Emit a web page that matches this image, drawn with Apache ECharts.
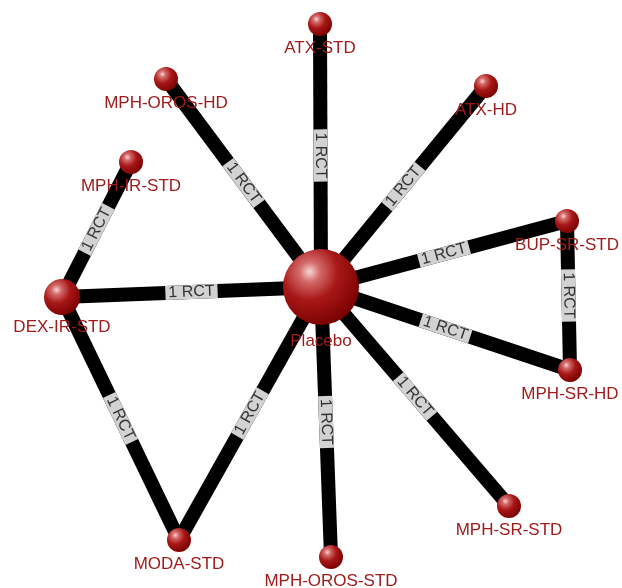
<!DOCTYPE html>
<html>
<head>
<meta charset="utf-8">
<script src="https://cdn.jsdelivr.net/npm/echarts@6/dist/echarts.min.js"></script>
<style>
  html, body { margin: 0; padding: 0; background: #ffffff; }
  #chart { width: 622px; height: 588px; }
</style>
</head>
<body>
<div id="chart"></div>
<script>
// Treatments in the network and their placement on the plotting plane
const treatments = ['Placebo', 'ATX-STD', 'MPH-OROS-HD', 'ATX-HD', 'MPH-IR-STD', 'BUP-SR-STD',
  'DEX-IR-STD', 'MPH-SR-HD', 'MPH-SR-STD', 'MODA-STD', 'MPH-OROS-STD'];
const nodeX = [321, 320, 166, 486, 131, 567, 62, 570, 509, 179, 331];
const nodeY = [287, 24, 79, 86, 162, 221, 297, 370, 506, 540, 557];
// Number of trials involving each treatment (drives sphere size)
const trialCount = [9, 1, 1, 1, 1, 2, 3, 2, 1, 2, 1];

// Direct comparisons and number of RCTs for each
const compSource = ['ATX-STD', 'Placebo', 'Placebo', 'Placebo', 'Placebo', 'Placebo', 'Placebo', 'Placebo', 'Placebo',
  'DEX-IR-STD', 'DEX-IR-STD', 'BUP-SR-STD'];
const compTarget = ['Placebo', 'MPH-OROS-HD', 'ATX-HD', 'BUP-SR-STD', 'MPH-SR-HD', 'MPH-SR-STD', 'MPH-OROS-STD', 'MODA-STD', 'DEX-IR-STD',
  'MPH-IR-STD', 'MODA-STD', 'MPH-SR-HD'];
const compRCT = [1, 1, 1, 1, 1, 1, 1, 1, 1, 1, 1, 1];

function sphereSize(n) {
  if (n >= 9) return 76;
  if (n >= 3) return 36;
  return 24;
}

const sphere = {
  type: 'radial', x: 0.35, y: 0.3, r: 0.75,
  colorStops: [
    { offset: 0, color: '#f6d6d6' },
    { offset: 0.18, color: '#d46a6a' },
    { offset: 0.5, color: '#a81717' },
    { offset: 1, color: '#780000' }
  ]
};

const nodes = treatments.map((name, i) => ({
  name: name,
  value: [nodeX[i], nodeY[i]],
  symbolSize: sphereSize(trialCount[i]),
  label: { distance: trialCount[i] >= 9 ? 8 : 4 }
}));

const links = compSource.map((s, i) => ({
  source: s,
  target: compTarget[i],
  value: compRCT[i]
}));

const chart = echarts.init(document.getElementById('chart'));
chart.setOption({
  backgroundColor: '#ffffff',
  animation: false,
  grid: { left: 0, right: 0, top: 0, bottom: 0 },
  xAxis: { type: 'value', min: 0, max: 622, show: false },
  yAxis: { type: 'value', min: 0, max: 588, inverse: true, show: false },
  series: [{
    type: 'graph',
    coordinateSystem: 'cartesian2d',
    layout: 'none',
    symbol: 'circle',
    data: nodes,
    links: links,
    itemStyle: { color: sphere },
    label: {
      show: true,
      position: 'bottom',
      color: '#a01c1c',
      fontSize: 17,
      fontFamily: 'Liberation Sans, Arial, sans-serif'
    },
    lineStyle: { color: '#000000', opacity: 1, width: 14, curveness: 0 },
    edgeLabel: {
      show: true,
      position: 'middle',
      formatter: p => p.data.value + ' RCT',
      color: '#333333',
      fontSize: 16,
      fontFamily: 'Liberation Sans, Arial, sans-serif',
      backgroundColor: '#d2d2d2',
      padding: [0, 3],
      lineHeight: 14,
      verticalAlign: 'middle',
      distance: 0
    },
    emphasis: { disabled: true }
  }]
});
</script>
</body>
</html>
